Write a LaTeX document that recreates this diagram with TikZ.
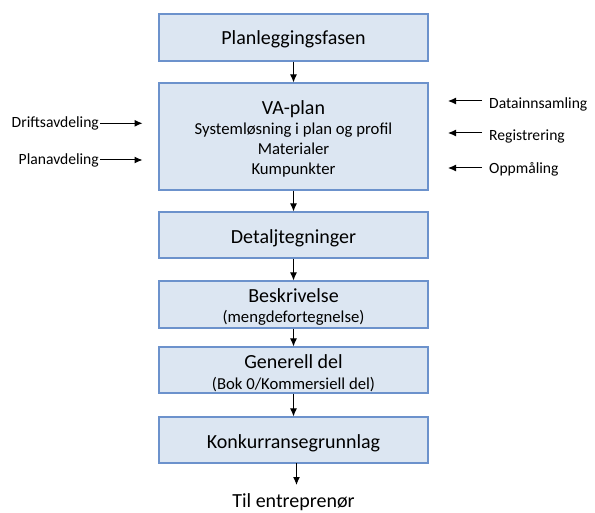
\documentclass[tikz,border=0pt]{standalone}
\usepackage{fontspec}
\setmainfont{Carlito}
\usetikzlibrary{arrows.meta}
\definecolor{boxfill}{RGB}{220,230,242}
\definecolor{boxline}{RGB}{108,146,204}
\begin{document}
\begin{tikzpicture}[x=1pt,y=-1pt,
  stepbox/.style={draw=boxline,fill=boxfill,line width=1.1pt,rectangle,minimum width=269pt,inner sep=0pt},
  big/.style={font=\fontsize{20}{24}\selectfont,anchor=base,inner sep=0pt},
  small/.style={font=\fontsize{16.7}{20}\selectfont,anchor=base,inner sep=0pt},
  side/.style={font=\fontsize{15.6}{19}\selectfont,inner sep=0pt},
  arr/.style={-{Latex[length=8pt,width=7pt]},line width=1pt,black}]
\useasboundingbox (0,0) rectangle (595,513);
% boxes
\node[stepbox,minimum height=47pt] (b1) at (293.5,37.5) {};
\node[stepbox,minimum height=107pt] (b2) at (293.5,136.5) {};
\node[stepbox,minimum height=46pt] (b3) at (293.5,235) {};
\node[stepbox,minimum height=47pt] (b4) at (293.5,304.5) {};
\node[stepbox,minimum height=46pt] (b5) at (293.5,370) {};
\node[stepbox,minimum height=46pt] (b6) at (293.5,440) {};
% texts
\node[big] (t1) at (293.5,45) {Planleggingsfasen};
\node[big] (t2a) at (293.5,115) {VA-plan};
\node[small] (t2b) at (293.5,135) {Systemløsning i plan og profil};
\node[small] (t2c) at (293.5,155) {Materialer};
\node[small] (t2d) at (293.5,175) {Kumpunkter};
\node[big] (t3) at (293.5,243.5) {Detaljtegninger};
\node[big] (t4a) at (293.5,302.5) {Beskrivelse};
\node[small] (t4b) at (293.5,322.5) {(mengdefortegnelse)};
\node[big] (t5a) at (293.5,368.5) {Generell del};
\node[small] (t5b) at (293.5,389) {(Bok 0/Kommersiell del)};
\node[big] (t6) at (293.5,448.5) {Konkurransegrunnlag};
\node[big] (til) at (293.5,507.5) {Til entreprenør};
% vertical arrows
\draw[arr] (b1.south) -- (b2.north);
\draw[arr] (b2.south) -- (b3.north);
\draw[arr] (b3.south) -- (b4.north);
\draw[arr] (b4.south) -- (b5.north);
\draw[arr] (b5.south) -- (b6.north);
\coordinate (e6) at (296.5,463);
\coordinate (e7) at (296.5,485);
\draw[arr] (e6) -- (e7);
% left inputs
\node[side,anchor=base east] (drift) at (99,128) {Driftsavdeling};
\node[side,anchor=base east] (plan) at (99,165) {Planavdeling};
\coordinate (dl) at (100,123.3);
\coordinate (dr) at (142.5,123.3);
\coordinate (pl) at (100,160);
\coordinate (pr) at (142.5,160);
\draw[arr] (dl) -- (dr);
\draw[arr] (pl) -- (pr);
% right inputs
\node[side,anchor=base west] (data) at (489,108.5) {Datainnsamling};
\node[side,anchor=base west] (reg) at (489,141) {Registrering};
\node[side,anchor=base west] (opp) at (489,174) {Oppmåling};
\coordinate (ar) at (482,101);
\coordinate (al) at (448,101);
\coordinate (br) at (482,133);
\coordinate (bl) at (448,133);
\coordinate (cr) at (482,168);
\coordinate (cl) at (448,168);
\draw[arr] (ar) -- (al);
\draw[arr] (br) -- (bl);
\draw[arr] (cr) -- (cl);
\end{tikzpicture}
\end{document}
